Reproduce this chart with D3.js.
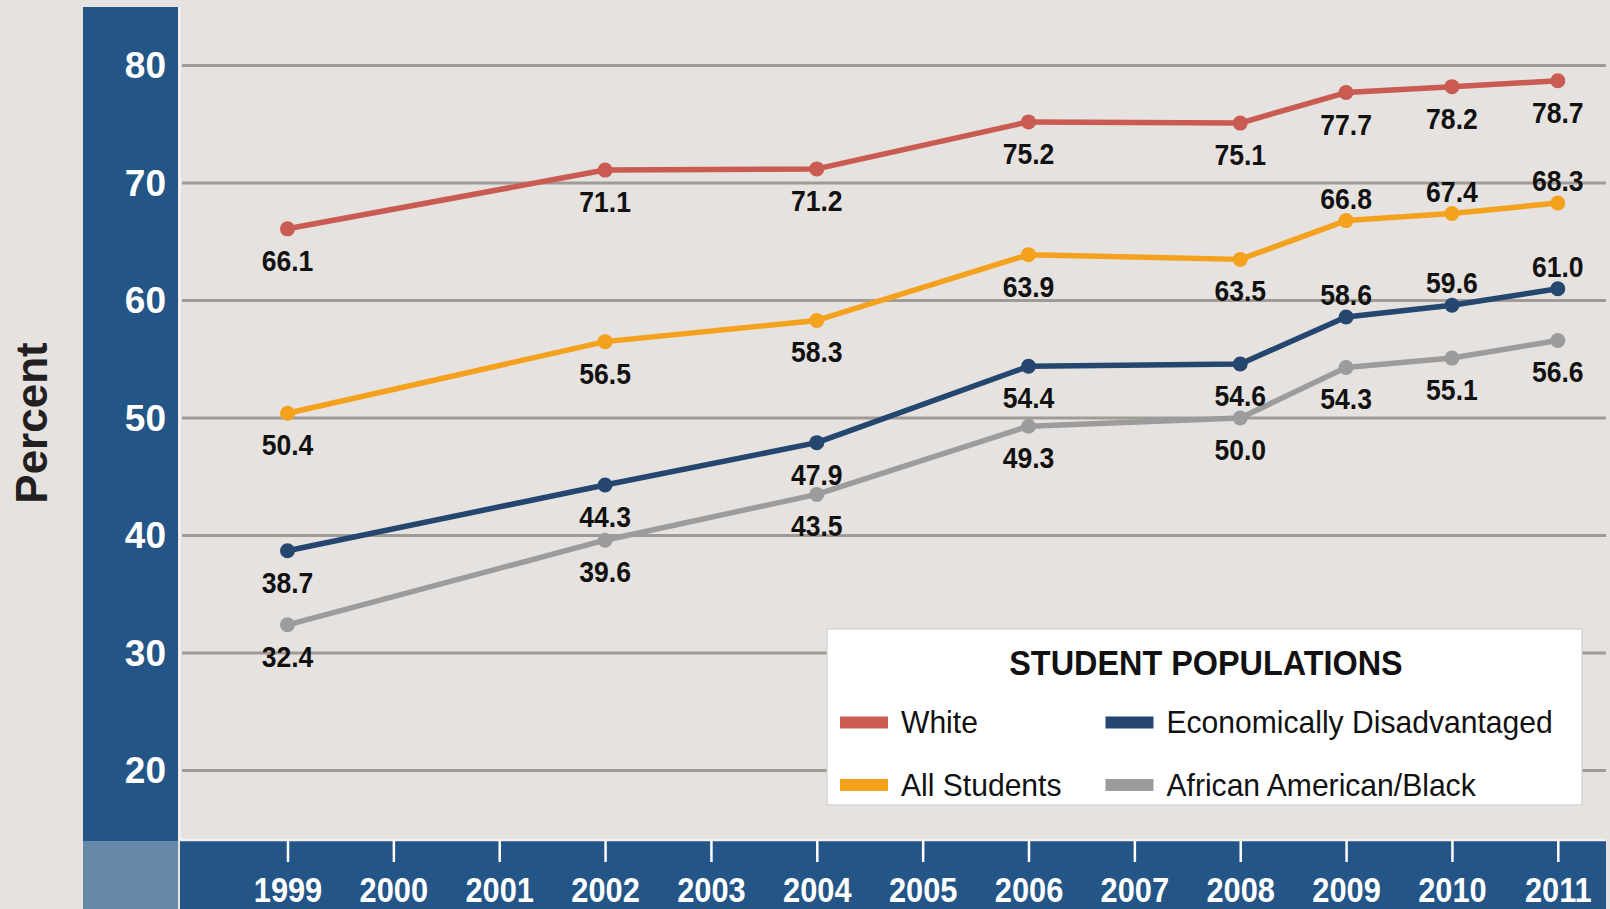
<!DOCTYPE html>
<html>
<head>
<meta charset="utf-8">
<script src="https://cdn.jsdelivr.net/npm/d3@7"></script>
<style>
  html, body { margin: 0; padding: 0; background: #e6e2df; }
  svg { display: block; }
</style>
</head>
<body>
<svg id="chart" width="1610" height="909"></svg>
<script>
// Survey years with reported results
const years = [1999, 2002, 2004, 2006, 2008, 2009, 2010, 2011];

// Percent of students, by population
const white = [66.1, 71.1, 71.2, 75.2, 75.1, 77.7, 78.2, 78.7];
const allStudents = [50.4, 56.5, 58.3, 63.9, 63.5, 66.8, 67.4, 68.3];
const econDisadvantaged = [38.7, 44.3, 47.9, 54.4, 54.6, 58.6, 59.6, 61.0];
const africanAmerican = [32.4, 39.6, 43.5, 49.3, 50.0, 54.3, 55.1, 56.6];

// Which side of the point each value label sits on
const whiteSide = ["below", "below", "below", "below", "below", "below", "below", "below"];
const allSide = ["below", "below", "below", "below", "below", "above", "above", "above"];
const econSide = ["below", "below", "below", "below", "below", "above", "above", "above"];
const blackSide = ["below", "below", "below", "below", "below", "below", "below", "below"];

// Axis ticks
const yTicks = [20, 30, 40, 50, 60, 70, 80];
const xTickLabels = ["1999", "2000", "2001", "2002", "2003", "2004", "2005",
                     "2006", "2007", "2008", "2009", "2010", "2011"];

const seriesNames = ["White", "All Students", "Economically Disadvantaged", "African American/Black"];

const COLORS = {
  white: "#c95b52",
  all: "#f4a21e",
  econ: "#24466f",
  black: "#9c9c9c"
};
const BLUE = "#245587";
const BG = "#e6e2df";
const FONT = "'Liberation Sans', Arial, sans-serif";

const svg = d3.select("#chart");

// Plot geometry
const plotLeft = 180, plotRight = 1606, plotTop = 7, plotBottom = 840;

const x = d3.scaleLinear().domain([1999, 2011]).range([287.5, 1557.8]);
const y = d3.scaleLinear().domain([20, 80]).range([770.5, 65.5]);

// Page background
svg.append("rect").attr("width", 1610).attr("height", 909).attr("fill", BG);

// Left blue band holding the y labels
svg.append("rect")
  .attr("x", 83).attr("y", plotTop)
  .attr("width", plotLeft - 2 - 83).attr("height", plotBottom + 1 - plotTop)
  .attr("fill", BLUE);

// Corner square
svg.append("rect")
  .attr("x", 83).attr("y", plotBottom + 1)
  .attr("width", plotLeft - 2 - 83).attr("height", 909 - plotBottom)
  .attr("fill", "#6788a8");

// Bottom blue band holding the year labels
svg.append("rect")
  .attr("x", plotLeft).attr("y", plotBottom + 1)
  .attr("width", plotRight - plotLeft).attr("height", 909 - plotBottom)
  .attr("fill", BLUE);

// Light frame on the plot's left and bottom edges
svg.append("path")
  .attr("d", `M${plotLeft - 0.5},${plotTop} V${plotBottom} H${plotRight}`)
  .attr("fill", "none")
  .attr("stroke", "#f3f1ef")
  .attr("stroke-width", 2.5);

// Horizontal gridlines
svg.append("g")
  .selectAll("line")
  .data(yTicks)
  .join("line")
  .attr("x1", plotLeft + 2).attr("x2", plotRight)
  .attr("y1", d => y(d)).attr("y2", d => y(d))
  .attr("stroke", "#a09b97")
  .attr("stroke-width", 3);

// Y axis labels
const yAxis = d3.axisLeft(y).tickValues(yTicks).tickSize(0).tickPadding(0).tickFormat(d3.format("d"));
const gy = svg.append("g").attr("transform", "translate(166,0)").call(yAxis);
gy.select(".domain").remove();
gy.selectAll("text")
  .attr("dy", 12)
  .attr("fill", "#ffffff")
  .style("font-family", FONT)
  .style("font-weight", "bold")
  .style("font-size", "37px");

// X axis ticks and year labels (condensed horizontally)
const xAxis = d3.axisBottom(x)
  .tickValues(xTickLabels.map(Number))
  .tickSize(21)
  .tickFormat((d, i) => xTickLabels[i]);
const gx = svg.append("g").attr("transform", `translate(0,${plotBottom + 1})`).call(xAxis);
gx.select(".domain").remove();
gx.selectAll(".tick line").attr("stroke", "#ffffff").attr("stroke-width", 2.5);
gx.selectAll(".tick text")
  .attr("y", 61).attr("dy", 0)
  .attr("transform", "scale(0.88,1)")
  .attr("fill", "#ffffff")
  .style("font-family", FONT)
  .style("font-weight", "bold")
  .style("font-size", "35px");

// Axis title
svg.append("text")
  .attr("transform", "translate(47,423) rotate(-90)")
  .attr("text-anchor", "middle")
  .attr("fill", "#231f20")
  .style("font-family", FONT)
  .style("font-weight", "bold")
  .style("font-size", "44px")
  .text("Percent");

// Series, drawn bottom to top
const series = [
  { key: "black", values: africanAmerican, side: blackSide },
  { key: "econ", values: econDisadvantaged, side: econSide },
  { key: "all", values: allStudents, side: allSide },
  { key: "white", values: white, side: whiteSide }
];

const line = d3.line()
  .x(d => x(d.year))
  .y(d => y(d.value));

const lines = svg.append("g");
series.forEach(s => {
  const pts = years.map((yr, i) => ({ year: yr, value: s.values[i], side: s.side[i] }));
  const g = lines.append("g");
  g.append("path")
    .datum(pts)
    .attr("d", line)
    .attr("fill", "none")
    .attr("stroke", COLORS[s.key])
    .attr("stroke-width", 5.5)
    .attr("stroke-linejoin", "round");
  g.selectAll("circle")
    .data(pts)
    .join("circle")
    .attr("cx", d => x(d.year))
    .attr("cy", d => y(d.value))
    .attr("r", 7.5)
    .attr("fill", COLORS[s.key]);
  s.pts = pts;
});

// Value labels (condensed horizontally)
const labels = svg.append("g");
series.forEach(s => {
  labels.selectAll(null)
    .data(s.pts)
    .join("text")
    .attr("transform", d =>
      `translate(${x(d.year)},${y(d.value) + (d.side === "below" ? 42 : -12)}) scale(0.9,1)`)
    .attr("text-anchor", "middle")
    .attr("fill", "#111111")
    .style("font-family", FONT)
    .style("font-weight", "bold")
    .style("font-size", "29.5px")
    .text(d => d.value.toFixed(1));
});

// Legend
const legend = svg.append("g");
legend.append("rect")
  .attr("x", 827).attr("y", 629)
  .attr("width", 755).attr("height", 176)
  .attr("fill", "#ffffff")
  .attr("stroke", "#d2cdc9")
  .attr("stroke-width", 1.2);

legend.append("text")
  .attr("transform", "translate(1206,675) scale(0.9,1)")
  .attr("text-anchor", "middle")
  .attr("fill", "#111111")
  .style("font-family", FONT)
  .style("font-weight", "bold")
  .style("font-size", "36px")
  .text("STUDENT POPULATIONS");

const legendItems = [
  { name: seriesNames[0], color: COLORS.white, col: 0, row: 0 },
  { name: seriesNames[2], color: COLORS.econ, col: 1, row: 0 },
  { name: seriesNames[1], color: COLORS.all, col: 0, row: 1 },
  { name: seriesNames[3], color: COLORS.black, col: 1, row: 1 }
];
const colX = [840, 1105.5];
const rowY = [722.5, 785];

const li = legend.selectAll("g.item")
  .data(legendItems)
  .join("g")
  .attr("class", "item")
  .attr("transform", d => `translate(${colX[d.col]},${rowY[d.row]})`);
li.append("rect")
  .attr("x", 0).attr("y", -6)
  .attr("width", 48).attr("height", 12)
  .attr("fill", d => d.color);
li.append("text")
  .attr("transform", "translate(61,10.5) scale(0.94,1)")
  .attr("fill", "#111111")
  .style("font-family", FONT)
  .style("font-size", "32px")
  .text(d => d.name);
</script>
</body>
</html>
